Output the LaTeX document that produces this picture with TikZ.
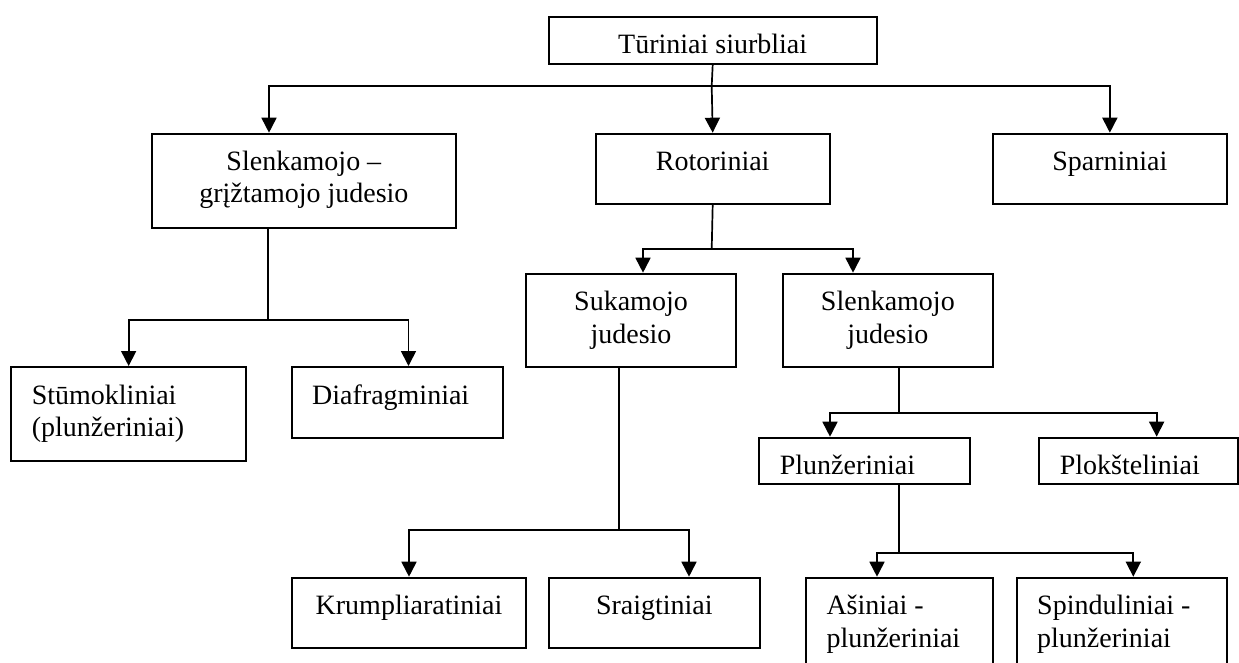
\documentclass[tikz,border=0pt]{standalone}
\usepackage{fontspec}
\setmainfont{Liberation Serif}
\usetikzlibrary{arrows.meta}
\newcommand\ctext[2]{\parbox[t]{#1pt}{\centering #2}}
\newcommand\ltext[2]{\parbox[t]{#1pt}{\raggedright\leftskip=20.5pt #2}}
\tikzset{
  bx/.style={draw, line width=2pt, inner sep=0pt, anchor=north west,
    text height=37pt, text depth=#1, font=\fontsize{28pt}{32.3pt}\selectfont},
  ln/.style={line width=1.7pt},
  arr/.style={ln, -{Triangle[length=15pt,width=15pt]}}
}
\begin{document}
\begin{tikzpicture}[x=1pt,y=-1pt]
\useasboundingbox (0,0) rectangle (1239,663);
\clip (0,0) rectangle (1239,663);
% boxes
\node[bx=10pt] (T) at (547.7,15.7) {\ctext{328}{Tūriniai siurbliai}};
\node[bx=57pt] (SG) at (150.7,132.7) {\ctext{304.3}{Slenkamojo –\\grįžtamojo judesio}};
\node[bx=33pt] (ROT) at (594.7,132.7) {\ctext{234}{Rotoriniai}};
\node[bx=33pt] (SP) at (991.7,132.7) {\ctext{234.3}{Sparniniai}};
\node[bx=56.6pt] (SUK) at (524.7,272.7) {\ctext{210.6}{Sukamojo\\judesio}};
\node[bx=56.6pt] (SLJ) at (781.7,272.7) {\ctext{210.3}{Slenkamojo\\judesio}};
\node[bx=57pt] (STU) at (10.3,366) {\ltext{234.7}{Stūmokliniai\\(plunžeriniai)}};
\node[bx=33.7pt] (DIA) at (290.7,366) {\ltext{211}{Diafragminiai}};
\node[bx=9.6pt] (PLU) at (758.3,436.7) {\ltext{211}{Plunžeriniai}};
\node[bx=9.6pt] (PLO) at (1038.3,436.7) {\ltext{198.7}{Plokšteliniai}};
\node[bx=33pt] (KRU) at (291,576.7) {\ctext{234}{Krumpliaratiniai}};
\node[bx=33pt] (SRA) at (547.7,576.7) {\ctext{211.3}{Sraigtiniai}};
\node[bx=63pt] (ASI) at (805,576.7) {\ltext{186.7}{Ašiniai -\\plunžeriniai}};
\node[bx=63pt] (SPI) at (1015.7,576.7) {\ltext{210}{Spinduliniai -\\plunžeriniai}};
% junctions
\coordinate (j0) at (711.7,86);
\coordinate (j1) at (711.7,249.3);
\coordinate (j2) at (268,320);
\coordinate (j3) at (618.7,530);
\coordinate (j4) at (898.7,412.7);
\coordinate (j5) at (898.7,553.3);
% level 1
\draw[ln] (T.south) -- (j0);
\draw[arr] (j0) -| ([xshift=-34.85pt]SG.north);
\draw[arr] (j0) -- (ROT.north);
\draw[arr] (j0) -| (SP.north);
% Rotoriniai
\draw[ln] (ROT.south) -- (j1);
\draw[arr] (j1) -| ([xshift=12pt]SUK.north);
\draw[arr] (j1) -| ([xshift=-34.85pt]SLJ.north);
% Slenkamojo - grįžtamojo
\draw[ln] (j2 |- SG.south) -- (j2);
\draw[arr] (j2) -| (STU.north);
\draw[arr] (j2) -| ([xshift=11.3pt]DIA.north);
% Sukamojo
\draw[ln] (j3 |- SUK.south) -- (j3);
\draw[arr] (j3) -| (KRU.north);
\draw[arr] (j3) -| ([xshift=34.65pt]SRA.north);
% Slenkamojo judesio
\draw[ln] (j4 |- SLJ.south) -- (j4);
\draw[arr] (j4) -| ([xshift=-34.8pt]PLU.north);
\draw[arr] (j4) -| ([xshift=18pt]PLO.north);
% Plunžeriniai
\draw[ln] (j5 |- PLU.south) -- (j5);
\draw[arr] (j5) -| ([xshift=-22.35pt]ASI.north);
\draw[arr] (j5) -| ([xshift=11.6pt]SPI.north);
\end{tikzpicture}
\end{document}
